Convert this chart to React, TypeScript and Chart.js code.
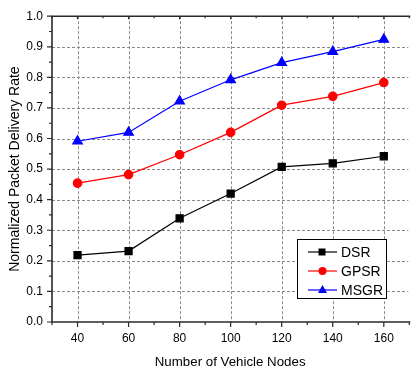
import React, { useEffect, useRef } from "react";
import { Chart, registerables } from "chart.js";

Chart.register(...registerables);

const nodeCounts = [40, 60, 80, 100, 120, 140, 160];
const dsrValues = [0.219, 0.232, 0.339, 0.42, 0.507, 0.519, 0.542];
const gpsrValues = [0.454, 0.482, 0.547, 0.62, 0.709, 0.738, 0.783];
const msgrValues = [0.591, 0.62, 0.722, 0.792, 0.848, 0.884, 0.924];
const yTickValues = [0, 0.1, 0.2, 0.3, 0.4, 0.5, 0.6, 0.7, 0.8, 0.9, 1.0];
const seriesLabels = ["DSR", "GPSR", "MSGR"];

const FONT = "'Liberation Sans', Arial, sans-serif";

const gridPlugin = {
  id: "dashedGrid",
  beforeDatasetsDraw(chart: any) {
    const ctx = chart.ctx;
    const xs = chart.scales.x;
    const ys = chart.scales.y;
    const { left, right, top, bottom } = chart.chartArea;
    ctx.save();
    ctx.strokeStyle = "#8a8a8a";
    ctx.lineWidth = 1;
    ctx.setLineDash([3, 2]);
    ctx.beginPath();
    yTickValues.forEach((v) => {
      if (v <= 0 || v >= 1) return;
      const y = Math.round(ys.getPixelForValue(v)) + 0.5;
      ctx.moveTo(left, y);
      ctx.lineTo(right, y);
    });
    nodeCounts.forEach((v) => {
      const x = Math.round(xs.getPixelForValue(v)) + 0.5;
      ctx.moveTo(x, top);
      ctx.lineTo(x, bottom);
    });
    ctx.stroke();
    ctx.restore();
  },
};

const axesPlugin = {
  id: "originAxes",
  afterDraw(chart: any) {
    const ctx = chart.ctx;
    const xs = chart.scales.x;
    const ys = chart.scales.y;
    const { left, right, top, bottom } = chart.chartArea;
    ctx.save();
    ctx.strokeStyle = "#2a2a2a";
    ctx.lineWidth = 1.6;
    ctx.beginPath();
    ctx.moveTo(left, top);
    ctx.lineTo(right + 2, top);
    ctx.moveTo(left, top - 0.8);
    ctx.lineTo(left, bottom);
    ctx.lineTo(right + 2, bottom);
    ctx.stroke();
    ctx.lineWidth = 1.2;
    ctx.beginPath();
    for (let i = 0; i <= 20; i++) {
      const v = i * 0.05;
      const y = ys.getPixelForValue(v);
      const len = i % 2 === 0 ? 5 : 3;
      ctx.moveTo(left, y);
      ctx.lineTo(left - len, y);
    }
    for (let v = 30; v <= 170; v += 10) {
      const x = xs.getPixelForValue(v);
      if (x < left || x > right + 2) continue;
      const major = v % 20 === 0;
      ctx.moveTo(x, bottom);
      ctx.lineTo(x, bottom + (major ? 5 : 3));
      ctx.moveTo(x, top);
      ctx.lineTo(x, top + (major ? 3 : 2));
    }
    ctx.stroke();

    const bx = 297, by = 239, bw = 89, bh = 59;
    ctx.fillStyle = "#ffffff";
    ctx.fillRect(bx, by, bw, bh);
    ctx.strokeStyle = "#000000";
    ctx.lineWidth = 1;
    ctx.strokeRect(bx + 0.5, by + 0.5, bw, bh);
    chart.data.datasets.forEach((ds: any, i: number) => {
      const yy = 252 + i * 19;
      ctx.strokeStyle = ds.borderColor;
      ctx.lineWidth = 1.2;
      ctx.beginPath();
      ctx.moveTo(308, yy);
      ctx.lineTo(337, yy);
      ctx.stroke();
      ctx.fillStyle = ds.backgroundColor;
      ctx.beginPath();
      if (ds.pointStyle === "rect") {
        ctx.rect(322 - 3.5, yy - 3.5, 7, 7);
      } else if (ds.pointStyle === "circle") {
        ctx.arc(322.5, yy, 4, 0, Math.PI * 2);
      } else {
        ctx.moveTo(322.5, yy - 5);
        ctx.lineTo(327, yy + 3);
        ctx.lineTo(318, yy + 3);
        ctx.closePath();
      }
      ctx.fill();
      ctx.fillStyle = "#000000";
      ctx.font = `14px ${FONT}`;
      ctx.textBaseline = "middle";
      ctx.textAlign = "left";
      ctx.fillText(ds.label, 341, yy + 1);
    });
    ctx.restore();
  },
};

export default function App() {
  const ref = useRef<HTMLCanvasElement | null>(null);
  useEffect(() => {
    if (!ref.current) return;
    const chart = new Chart(ref.current, {
      type: "line",
      data: {
        datasets: [
          {
            label: seriesLabels[0],
            data: nodeCounts.map((x, i) => ({ x, y: dsrValues[i] })),
            borderColor: "#000000",
            backgroundColor: "#000000",
            pointStyle: "rect",
            pointRadius: 5,
            borderWidth: 1.2,
          },
          {
            label: seriesLabels[1],
            data: nodeCounts.map((x, i) => ({ x, y: gpsrValues[i] })),
            borderColor: "#ff0000",
            backgroundColor: "#ff0000",
            pointStyle: "circle",
            pointRadius: 4.2,
            borderWidth: 1.2,
          },
          {
            label: seriesLabels[2],
            data: nodeCounts.map((x, i) => ({ x, y: msgrValues[i] })),
            borderColor: "#0000ff",
            backgroundColor: "#0000ff",
            pointStyle: "triangle",
            pointRadius: 5.5,
            borderWidth: 1.2,
          },
        ],
      },
      options: {
        responsive: false,
        animation: false,
        layout: { padding: { top: 9, right: 0, left: 0, bottom: 0 } },
        plugins: {
          legend: { display: false },
          tooltip: { enabled: false },
        },
        scales: {
          x: {
            type: "linear",
            min: 30,
            max: 169.6,
            afterFit(scale: any) {
              scale.height = 49;
            },
            afterBuildTicks(scale: any) {
              scale.ticks = nodeCounts.map((v) => ({ value: v }));
            },
            ticks: {
              color: "#000000",
              font: { family: FONT, size: 12 },
              padding: 9,
              maxRotation: 0,
              autoSkip: false,
            },
            grid: { display: false, drawTicks: false },
            border: { display: false },
            title: {
              display: true,
              text: "Number of Vehicle Nodes",
              color: "#000000",
              font: { family: FONT, size: 13.3 },
              padding: { top: 0, bottom: 1 },
            },
          },
          y: {
            type: "linear",
            min: 0,
            max: 1,
            afterFit(scale: any) {
              scale.width = 52;
            },
            afterBuildTicks(scale: any) {
              scale.ticks = yTickValues.map((v) => ({ value: v }));
            },
            ticks: {
              color: "#000000",
              font: { family: FONT, size: 12 },
              padding: 9,
              callback: (v: any) => Number(v).toFixed(1),
            },
            grid: { display: false, drawTicks: false },
            border: { display: false },
            title: {
              display: true,
              text: "Normalized Packet Delivery Rate",
              color: "#000000",
              font: { family: FONT, size: 14 },
              padding: { top: 7, bottom: 0 },
            },
          },
        },
      },
      plugins: [gridPlugin, axesPlugin],
    } as any);
    return () => chart.destroy();
  }, []);
  return (
    <div style={{ position: "absolute", left: 0, top: 0, width: 415, height: 371, background: "#fff" }}>
      <canvas ref={ref} width={415} height={371} style={{ display: "block" }} />
    </div>
  );
}
